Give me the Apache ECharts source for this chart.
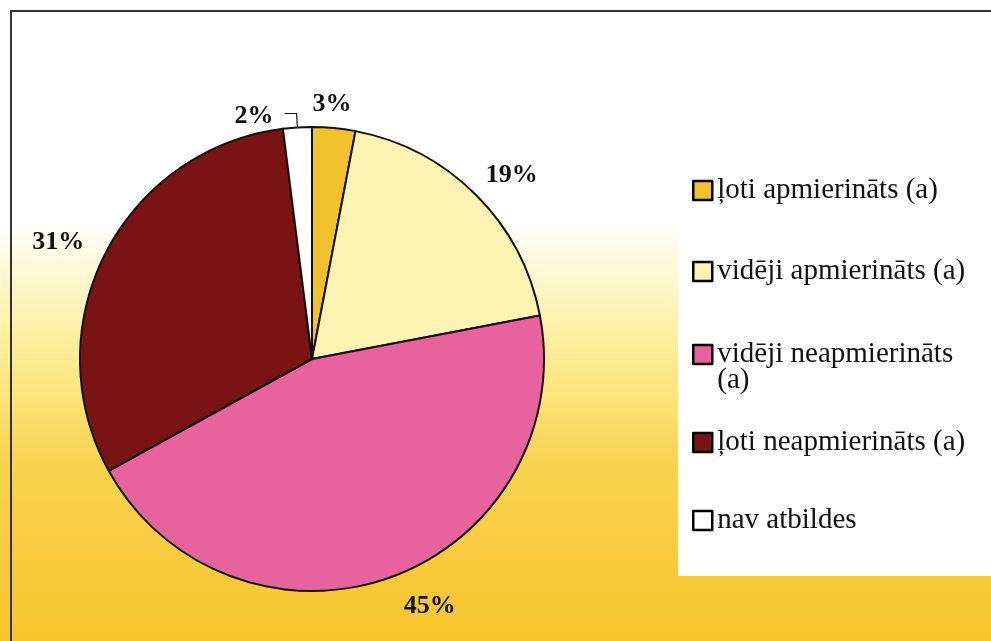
<!DOCTYPE html>
<html>
<head>
<meta charset="utf-8">
<script src="https://cdn.jsdelivr.net/npm/echarts@6/dist/echarts.min.js"></script>
<style>
  html, body { margin: 0; padding: 0; }
  #chart { width: 991px; height: 641px; }
</style>
</head>
<body>
<div id="chart"></div>
<script>
const categories = [
  'ļoti apmierināts (a)',
  'vidēji apmierināts (a)',
  'vidēji neapmierināts (a)',
  'ļoti neapmierināts (a)',
  'nav atbildes'
]
const values = [3, 19, 45, 31, 2]
const colors = ['#f2c12e', '#fdf3b2', '#e8629e', '#7a1414', '#ffffff']

// wrapped label: blank first line keeps the icon level with the first text line
const legendLabels = {
  'vidēji neapmierināts (a)': ' \nvidēji neapmierināts\n(a)'
}
const legendTops = [171, 252, 309, 423, 501]

const chart = echarts.init(document.getElementById('chart'))

const fontFamily = '"Liberation Serif", "DejaVu Serif", serif'

const legends = categories.map((name, i) => ({
  orient: 'vertical',
  left: 687,
  top: legendTops[i],
  data: [name],
  icon: 'rect',
  itemWidth: 19,
  itemHeight: 19,
  itemGap: 0,
  selectedMode: false,
  itemStyle: { borderColor: '#000', borderWidth: 2.5 },
  formatter: n => legendLabels[n] || n,
  textStyle: { fontFamily, fontSize: 29, color: '#111', lineHeight: 26 }
}))

chart.setOption({
  backgroundColor: {
    type: 'linear', x: 0, y: 0, x2: 0, y2: 1,
    colorStops: [
      { offset: 0, color: '#ffffff' },
      { offset: 0.34, color: '#ffffff' },
      { offset: 0.52, color: '#fdf0a4' },
      { offset: 0.72, color: '#f9d450' },
      { offset: 1, color: '#f7c42e' }
    ]
  },
  color: colors,
  graphic: [
    // white box behind legend
    { type: 'rect', shape: { x: 678, y: 150, width: 313, height: 426 }, style: { fill: '#ffffff' }, z: -1 },
    // scanned frame
    { type: 'polyline', shape: { points: [[11, 641], [11, 11], [991, 11]] }, style: { stroke: '#333', lineWidth: 2, fill: null } }
  ],
  legend: legends,
  series: [{
    type: 'pie',
    center: [312, 359],
    radius: 232,
    startAngle: 90,
    clockwise: true,
    avoidLabelOverlap: false,
    itemStyle: { borderColor: '#111', borderWidth: 2 },
    label: {
      show: true,
      position: 'outside',
      formatter: '{d}%',
      fontFamily,
      fontWeight: 'bold',
      fontSize: 26,
      color: '#111'
    },
    labelLine: { show: false, length: 18, length2: 6 },
    labelLayout: params => {
      const nudge = [[-34, -6], [-14, -7], [-4, 12], [6, -3], [-6, 3]]
      const n = nudge[params.dataIndex]
      return { dx: n[0], dy: n[1] }
    },
    emphasis: { disabled: true },
    data: categories.map((name, i) => {
      const d = { name, value: values[i] }
      if (i === 4) {
        d.labelLine = { show: true, length: 14, length2: 12, lineStyle: { color: '#111', width: 1.2 } }
      }
      return d
    })
  }]
})
</script>
</body>
</html>
